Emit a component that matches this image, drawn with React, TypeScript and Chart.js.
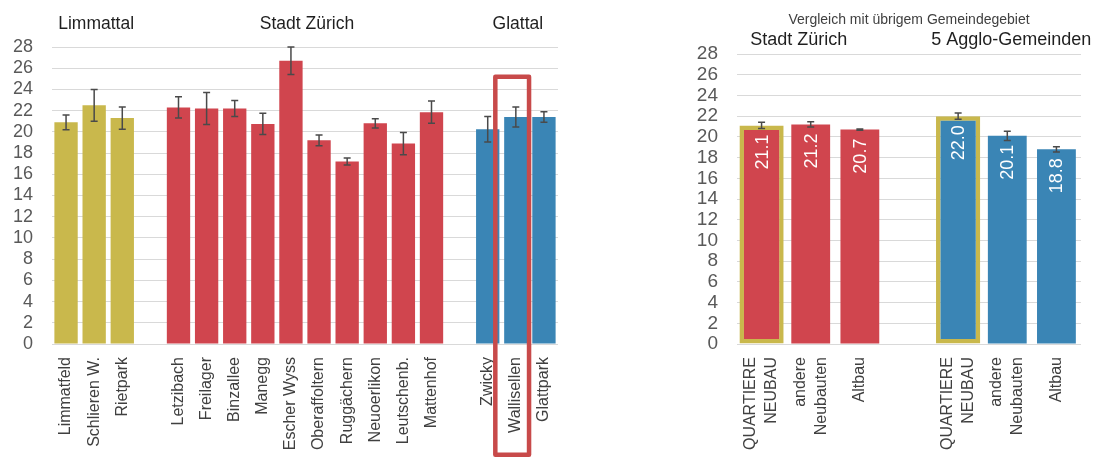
import React, { useEffect, useRef } from 'react';
import { Chart, registerables } from 'chart.js';

Chart.register(...registerables);

const FONT = '"Liberation Sans", Arial, Helvetica, sans-serif';

// ---- Left panel: average living space per person in new-build quarters ----
const leftCategories = [
  'Limmatfeld', 'Schlieren W.', 'Rietpark', '',
  'Letzibach', 'Freilager', 'Binzallee', 'Manegg', 'Escher Wyss', 'Oberaffoltern',
  'Ruggächern', 'Neuoerlikon', 'Leutschenb.', 'Mattenhof', '',
  'Zwicky', 'Wallisellen', 'Glattpark',
];
const leftValues = [
  20.9, 22.5, 21.3, null,
  22.3, 22.2, 22.2, 20.75, 26.7, 19.2, 17.2, 20.8, 18.9, 21.85, null,
  20.25, 21.4, 21.4,
];
const leftErrors = [
  0.7, 1.5, 1.05, null,
  1.0, 1.5, 0.75, 1.0, 1.3, 0.5, 0.33, 0.43, 1.05, 1.05, null,
  1.2, 0.95, 0.5,
];
const leftGroupIndex = [0, 0, 0, null, 1, 1, 1, 1, 1, 1, 1, 1, 1, 1, null, 2, 2, 2];
const leftGroupNames = ['Limmattal', 'Stadt Zürich', 'Glattal'];
const leftGroupColors = ['#c9b84c', '#d0454e', '#3a85b5'];
const highlightCategory = 'Wallisellen';

// ---- Right panel: comparison with the rest of the municipal area ----
const rightCategories = [
  ['QUARTIERE', 'NEUBAU'], ['andere', 'Neubauten'], ['Altbau'], [],
  ['QUARTIERE', 'NEUBAU'], ['andere', 'Neubauten'], ['Altbau'],
];
const rightValues = [21.1, 21.2, 20.7, null, 22.0, 20.1, 18.8];
const rightErrors = [0.3, 0.25, 0.05, null, 0.3, 0.45, 0.25];
const rightGroupIndex = [0, 0, 0, null, 1, 1, 1];
const rightGroupNames = ['Stadt Zürich', '5 Agglo-Gemeinden'];
const rightGroupColors = ['#d0454e', '#3a85b5'];
const rightQuartier = [true, false, false, false, true, false, false];
const rightSubtitle = 'Vergleich mit übrigem Gemeindegebiet';

const yTicks = [0, 2, 4, 6, 8, 10, 12, 14, 16, 18, 20, 22, 24, 26, 28];

const QUARTIER_BORDER = '#c9b84c';
const ERR_COLOR = '#4a4a4a';
const GRID_COLOR = '#d9d9d9';

function drawErrorBars(chart: any, values: (number | null)[], errors: (number | null)[], capHalf: number) {
  const { ctx } = chart;
  const xs = chart.scales.x;
  const ys = chart.scales.y;
  ctx.save();
  ctx.strokeStyle = ERR_COLOR;
  ctx.lineWidth = 1.5;
  values.forEach((v, i) => {
    const e = errors[i];
    if (v == null || e == null) return;
    const x = xs.getPixelForValue(i);
    const yTop = ys.getPixelForValue(v + e);
    const yBot = ys.getPixelForValue(v - e);
    ctx.beginPath();
    ctx.moveTo(x, yTop);
    ctx.lineTo(x, yBot);
    ctx.moveTo(x - capHalf, yTop);
    ctx.lineTo(x + capHalf, yTop);
    ctx.moveTo(x - capHalf, yBot);
    ctx.lineTo(x + capHalf, yBot);
    ctx.stroke();
  });
  ctx.restore();
}

function groupCenter(chart: any, groupIndex: (number | null)[], g: number) {
  const xs = chart.scales.x;
  const idx = groupIndex.map((v, i) => (v === g ? i : -1)).filter((i) => i >= 0);
  const a = xs.getPixelForValue(idx[0]);
  const b = xs.getPixelForValue(idx[idx.length - 1]);
  return (a + b) / 2;
}

function yScaleOptions(fontSize: number, pad: number, width: number) {
  return {
    min: 0,
    max: 28,
    afterBuildTicks: (scale: any) => {
      scale.ticks = yTicks.map((v) => ({ value: v }));
    },
    afterFit: (scale: any) => {
      scale.width = width;
    },
    grid: { color: GRID_COLOR, lineWidth: 1, drawTicks: false },
    border: { display: false },
    ticks: {
      autoSkip: false,
      padding: pad,
      color: '#595959',
      font: { family: FONT, size: fontSize },
    },
  };
}

const leftPlugin = {
  id: 'leftDecor',
  afterDatasetsDraw(chart: any) {
    drawErrorBars(chart, leftValues, leftErrors, 3.5);
  },
  afterDraw(chart: any) {
    const { ctx } = chart;
    const xs = chart.scales.x;
    const ys = chart.scales.y;
    // region titles above each group
    ctx.save();
    ctx.fillStyle = '#1f1f1f';
    ctx.font = `17.5px ${FONT}`;
    ctx.textAlign = 'center';
    ctx.textBaseline = 'middle';
    leftGroupNames.forEach((name, g) => {
      ctx.fillText(name, groupCenter(chart, leftGroupIndex, g) + 2, 24);
    });
    ctx.restore();

    // highlight frame around one quarter
    const hi = leftCategories.indexOf(highlightCategory);
    const slot = xs.getPixelForValue(1) - xs.getPixelForValue(0);
    const cx = xs.getPixelForValue(hi);
    const lw = 4.5;
    const left = cx - 0.81 * slot + lw / 2;
    const right = cx + 0.55 * slot - lw / 2;
    const top = ys.getPixelForValue(25.4) + lw / 2;
    const bottom = chart.height - lw / 2;
    ctx.save();
    ctx.strokeStyle = '#c84a4a';
    ctx.lineWidth = lw;
    ctx.lineJoin = 'round';
    ctx.beginPath();
    ctx.moveTo(left, top);
    ctx.lineTo(right, top);
    ctx.lineTo(right, bottom);
    ctx.lineTo(left, bottom);
    ctx.closePath();
    ctx.stroke();
    ctx.restore();
  },
};

const rightPlugin = {
  id: 'rightDecor',
  afterDatasetsDraw(chart: any) {
    const { ctx } = chart;
    const xs = chart.scales.x;
    const ys = chart.scales.y;
    drawErrorBars(chart, rightValues, rightErrors, 3.5);
    // value labels inside the bars
    ctx.save();
    ctx.fillStyle = '#ffffff';
    ctx.font = `18px ${FONT}`;
    ctx.textAlign = 'right';
    ctx.textBaseline = 'middle';
    rightValues.forEach((v, i) => {
      if (v == null) return;
      const x = xs.getPixelForValue(i);
      const y = ys.getPixelForValue(v) + 9;
      ctx.save();
      ctx.translate(x, y);
      ctx.rotate(-Math.PI / 2);
      ctx.fillText(v.toFixed(1), 0, 1);
      ctx.restore();
    });
    ctx.restore();
  },
  afterDraw(chart: any) {
    const { ctx, chartArea } = chart;
    const xs = chart.scales.x;
    // two-line category labels, rotated
    ctx.save();
    ctx.fillStyle = '#404040';
    ctx.font = `16px ${FONT}`;
    ctx.textAlign = 'right';
    ctx.textBaseline = 'middle';
    const lh = 21;
    rightCategories.forEach((lines, i) => {
      const x = xs.getPixelForValue(i);
      lines.forEach((line, j) => {
        const cx = x + (j - (lines.length - 1) / 2) * lh;
        ctx.save();
        ctx.translate(cx, chartArea.bottom + 13);
        ctx.rotate(-Math.PI / 2);
        ctx.fillText(line, 0, 0);
        ctx.restore();
      });
    });
    ctx.restore();

    // titles
    ctx.save();
    ctx.textAlign = 'center';
    ctx.textBaseline = 'middle';
    ctx.fillStyle = '#404040';
    ctx.font = `14px ${FONT}`;
    ctx.fillText(rightSubtitle, (chartArea.left + chartArea.right) / 2, 20);
    ctx.fillStyle = '#1f1f1f';
    ctx.font = `18px ${FONT}`;
    const offsets = [-12, 4];
    rightGroupNames.forEach((name, g) => {
      ctx.fillText(name, groupCenter(chart, rightGroupIndex, g) + offsets[g], 40);
    });
    ctx.restore();
  },
};

export default function App() {
  const leftRef = useRef<HTMLCanvasElement | null>(null);
  const rightRef = useRef<HTMLCanvasElement | null>(null);

  useEffect(() => {
    const leftColors = leftGroupIndex.map((g) => (g == null ? 'transparent' : leftGroupColors[g]));
    const left = new Chart(leftRef.current as HTMLCanvasElement, {
      type: 'bar',
      data: {
        labels: leftCategories,
        datasets: [
          {
            data: leftValues,
            backgroundColor: leftColors,
            barPercentage: 0.83,
            categoryPercentage: 1,
          },
        ],
      },
      options: {
        responsive: false,
        animation: false,
        events: [],
        layout: { padding: { top: 47, right: 42, left: 0, bottom: 0 } },
        plugins: { legend: { display: false }, tooltip: { enabled: false } },
        scales: {
          x: {
            afterFit: (scale: any) => {
              scale.height = 113;
            },
            grid: { display: false },
            border: { display: false },
            ticks: {
              autoSkip: false,
              maxRotation: 90,
              minRotation: 90,
              padding: 5,
              color: '#404040',
              font: { family: FONT, size: 16 },
            },
          },
          y: yScaleOptions(18, 19, 52) as any,
        },
      },
      plugins: [leftPlugin],
    });

    const rightColors = rightGroupIndex.map((g) => (g == null ? 'transparent' : rightGroupColors[g]));
    const right = new Chart(rightRef.current as HTMLCanvasElement, {
      type: 'bar',
      data: {
        labels: rightCategories.map((l) => l.join(' ')),
        datasets: [
          {
            data: rightValues.map((v, i) => (rightQuartier[i] ? v : null)),
            backgroundColor: rightColors,
            borderColor: QUARTIER_BORDER,
            borderWidth: 4.5,
            borderSkipped: false,
            barPercentage: 0.9,
            categoryPercentage: 1,
            grouped: false,
          },
          {
            data: rightValues.map((v, i) => (rightQuartier[i] ? null : v)),
            backgroundColor: rightColors,
            barPercentage: 0.79,
            categoryPercentage: 1,
            grouped: false,
          },
        ],
      },
      options: {
        responsive: false,
        animation: false,
        events: [],
        layout: { padding: { top: 54, right: 18, left: 0, bottom: 0 } },
        plugins: { legend: { display: false }, tooltip: { enabled: false } },
        scales: {
          x: {
            afterFit: (scale: any) => {
              scale.height = 113;
            },
            grid: { display: false },
            border: { display: false },
            ticks: { display: false },
          },
          y: yScaleOptions(19, 19, 97) as any,
        },
      },
      plugins: [rightPlugin],
    });

    return () => {
      left.destroy();
      right.destroy();
    };
  }, []);

  return (
    <div
      style={{
        position: 'absolute',
        left: 0,
        top: 0,
        width: 1099,
        height: 457,
        background: '#ffffff',
        overflow: 'hidden',
      }}
    >
      <canvas
        ref={leftRef}
        width={600}
        height={457}
        style={{ position: 'absolute', left: 0, top: 0, width: 600, height: 457 }}
      />
      <canvas
        ref={rightRef}
        width={459}
        height={457}
        style={{ position: 'absolute', left: 640, top: 0, width: 459, height: 457 }}
      />
    </div>
  );
}
